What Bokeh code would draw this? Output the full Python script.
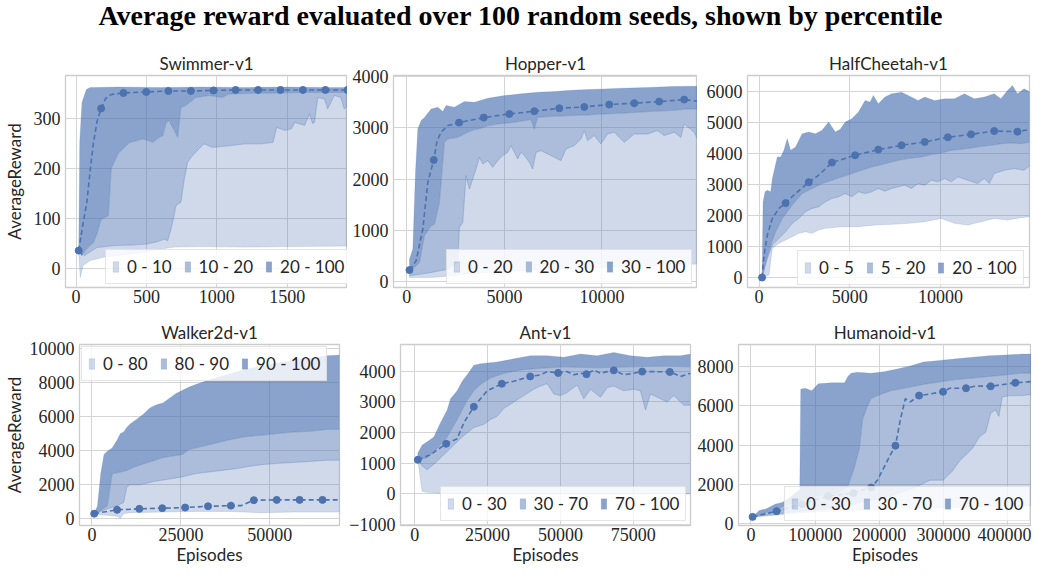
from bokeh.plotting import figure
from bokeh.models import (Range1d, FixedTicker, BasicTickFormatter, CustomJSTickFormatter,
                          Legend, LegendItem, Div)
from bokeh.layouts import column, row
from bokeh.embed import file_html
from bokeh.resources import INLINE

# ---------------- data ----------------
# Swimmer-v1
sw_p0_x = [19, 30, 50, 100, 200, 300, 400, 500, 600, 700, 900, 1200, 1500, 1929]
sw_p0_y = [30, -19, 5, 15, 22, 25, 28, 32, 38, 42, 43, 42, 43, 44]
sw_p10_x = [19, 60, 148, 265, 382, 499, 569, 628, 651, 675, 700, 710, 745, 770, 792, 827, 874, 909, 968, 1085,
            1202, 1319, 1400, 1425, 1483, 1530, 1554, 1624, 1659, 1680, 1694, 1718, 1765, 1788, 1835, 1882, 1905, 1929]
sw_p10_y = [35, 25, 41, 45, 46, 48, 52, 58, 55, 78, 110, 125, 132, 180, 212, 225, 239, 249, 242, 245,
            249, 249, 252, 282, 276, 279, 292, 286, 309, 290, 292, 342, 339, 319, 346, 342, 319, 325]
sw_p20_x = [19, 40, 80, 124, 150, 178, 230, 250, 300, 382, 430, 476, 546, 590, 616, 640, 663, 680, 698, 722,
            745, 780, 851, 944, 1038, 1085, 1200, 1400, 1600, 1800, 1929]
sw_p20_y = [35, 25, 40, 51, 70, 98, 105, 200, 230, 252, 255, 259, 252, 262, 265, 292, 296, 285, 276, 262,
            322, 326, 342, 346, 342, 349, 350, 351, 352, 352, 352]
sw_p100_x = [19, 26, 42, 73, 100, 300, 600, 900, 1200, 1500, 1800, 1929]
sw_p100_y = [35, 252, 332, 358, 362, 363, 362, 363, 362, 363, 362, 362]
sw_line_x = [19, 50, 77, 100, 124, 150, 178, 210, 250, 337, 499, 656, 816, 977, 1134, 1294, 1453, 1612, 1772, 1929]
sw_line_y = [35, 90, 132, 195, 252, 295, 320, 340, 348, 351, 353, 355, 355, 356, 357, 357, 357, 357, 357, 357]
sw_mk_x = [19, 178, 337, 499, 656, 816, 977, 1134, 1294, 1453, 1612, 1772, 1929]
sw_mk_y = [35, 320, 351, 353, 355, 355, 356, 357, 357, 357, 357, 357, 357]
sw_labels = ["0 - 10", "10 - 20", "20 - 100"]

# Hopper-v1
hp_p0_x = [136, 1245, 2098, 3000, 5000, 8000, 11000, 14895]
hp_p0_y = [85, 85, 110, 150, 200, 250, 300, 345]
hp_p20_x = [136, 1245, 2098, 2610, 2695, 2866, 3037, 3207, 3378, 3548, 3719, 3890, 4146, 4402, 4658, 4914,
            5170, 5340, 5511, 5681, 5852, 6023, 6279, 6449, 6620, 6875, 7216, 7558, 7899, 8155, 8582, 8923,
            9093, 9264, 9605, 9946, 10287, 10628, 11140, 11652, 12335, 12846, 13188, 13700, 14041, 14211,
            14723, 14895]
hp_p20_y = [117, 182, 247, 377, 1060, 1158, 2068, 1808, 2003, 2198, 2426, 2296, 2361, 2231, 2361, 2459,
            2524, 2654, 2524, 2394, 2524, 2459, 2328, 2198, 2524, 2556, 2491, 2426, 2361, 2589, 2654, 2784,
            2946, 2751, 2849, 2686, 2881, 2914, 2719, 2881, 2881, 2946, 2849, 2914, 2816, 3076,
            2914, 2784]
hp_p30_x = [136, 648, 904, 1245, 1416, 1672, 1927, 2098, 2610, 3122, 3463, 3804, 4146, 4658, 5511, 6364,
            6534, 6705, 7558, 8411, 9264, 10117, 10970, 11823, 12676, 13529, 14382, 14895]
hp_p30_y = [182, 377, 898, 1093, 1125, 1548, 2719, 2784, 2816, 2914, 2966, 2992, 3044, 3076, 3109, 3161,
            2979, 3207, 3226, 3239, 3252, 3272, 3284, 3304, 3324, 3337, 3369, 3369]
hp_p100_x = [136, 307, 444, 563, 733, 904, 1245, 1586, 1842, 2013, 2439, 2951, 3463, 4146, 4999, 5852,
             6705, 7558, 8411, 9264, 10117, 10970, 11823, 12676, 13529, 14382, 14895]
hp_p100_y = [442, 637, 2133, 2979, 3141, 3201, 3369, 3402, 3317, 3434, 3402, 3512, 3499, 3577, 3629, 3662,
             3694, 3707, 3733, 3746, 3759, 3772, 3779, 3792, 3805, 3811, 3811]
hp_line_x = [136, 478, 819, 1075, 1382, 1552, 1757, 2098, 2678, 3941, 5254, 6534, 7813, 9093, 10372, 11652,
             12931, 14211, 14895]
hp_line_y = [228, 410, 1028, 1938, 2374, 2751, 2914, 3044, 3102, 3200, 3271, 3324, 3382, 3408, 3454, 3480,
             3512, 3551, 3520]
hp_mk_x = [136, 1382, 2678, 3941, 5254, 6534, 7813, 9093, 10372, 11652, 12931, 14211]
hp_mk_y = [228, 2374, 3102, 3200, 3271, 3324, 3382, 3408, 3454, 3480, 3512, 3551]
hp_labels = ["0 - 20", "20 - 30", "30 - 100"]

# HalfCheetah-v1
hc_p0_x = [164, 548, 730, 1095, 1460, 1825, 2190, 2555, 2920, 3285, 3650, 4563, 5475, 6388, 7300, 8213,
           9125, 10038, 10767, 11498, 12228, 12958, 13688, 14418, 14965]
hc_p0_y = [0, 86, 942, 1103, 1210, 1317, 1424, 1478, 1424, 1531, 1585, 1639, 1639, 1692, 1714, 1746,
           1799, 1906, 1746, 1692, 1799, 1906, 1853, 1928, 1960]
hc_p5_x = [164, 456, 730, 1095, 1460, 1825, 2190, 2555, 2920, 3285, 3650, 4015, 4380, 4745, 5110, 5475,
           5840, 6205, 6570, 6935, 7300, 7665, 8030, 8395, 8760, 9125, 9490, 9855, 10220, 10585, 10950,
           11498, 12045, 12410, 12684, 12958, 13505, 14053, 14600, 14965]
hc_p5_y = [0, 621, 1050, 1264, 1478, 1746, 1906, 2121, 2228, 2281, 2442, 2549, 2603, 2710, 2603, 2763,
           2710, 2763, 2870, 2785, 2870, 2924, 2977, 2870, 3031, 2977, 3138, 3084, 3192, 3084, 3245,
           3138, 3031, 3192, 3031, 3352, 3459, 3513, 3459, 3620]
hc_p20_x = [164, 365, 639, 913, 1278, 1825, 2373, 2920, 3468, 4015, 4563, 5110, 5658, 6205, 6753, 7300,
            7848, 8395, 8943, 9490, 10038, 10585, 11133, 11680, 12228, 12775, 13323, 13870, 14418, 14965]
hc_p20_y = [0, 514, 1050, 1478, 1906, 2335, 2710, 2870, 3031, 3138, 3245, 3352, 3459, 3566, 3641, 3727,
            3802, 3856, 3888, 3963, 4016, 4102, 4134, 4177, 4230, 4263, 4316, 4338, 4316, 4370]
hc_p100_x = [164, 219, 329, 456, 639, 730, 1004, 1186, 1369, 1551, 1734, 2008, 2373, 2738, 3103, 3468,
             3833, 4198, 4471, 4745, 5110, 5475, 5840, 6114, 6296, 6570, 6935, 7300, 7848, 8213, 8760,
             9125, 9672, 10220, 10767, 11315, 11862, 12410, 12958, 13323, 13688, 13961, 14235, 14600, 14965]
hc_p100_y = [0, 2442, 2763, 2817, 2763, 3192, 3888, 3888, 4102, 4477, 4102, 4209, 4637, 4691, 4637, 4745,
             5012, 4691, 4777, 5012, 5120, 5334, 5708, 5655, 5869, 5601, 5816, 5923, 5976, 5869, 5708,
             5816, 5708, 5762, 5762, 5923, 5762, 5816, 5923, 5762, 6030, 6190, 5923, 6083, 5976]
hc_line_x = [164, 274, 456, 730, 1095, 1460, 2008, 2738, 3285, 4015, 5293, 6570, 7848, 9125, 10403, 11680,
             12958, 14235, 14965]
hc_line_y = [0, 728, 1371, 1906, 2228, 2399, 2710, 3074, 3299, 3706, 3941, 4123, 4263, 4370, 4520, 4616,
             4723, 4702, 4777]
hc_mk_x = [164, 1460, 2738, 4015, 5293, 6570, 7848, 9125, 10403, 11680, 12958, 14235]
hc_mk_y = [0, 2399, 3074, 3706, 3941, 4123, 4263, 4370, 4520, 4616, 4723, 4702]
hc_labels = ["0 - 5", "5 - 20", "20 - 100"]

# Walker2d-v1
wk_p0_x = [643, 4319, 7076, 7995, 8914, 10752, 19942, 29132, 38323, 42918, 47512, 56702, 65892, 69570]
wk_p0_y = [226, 189, 132, 0, 283, 340, 377, 415, 415, 377, 340, 377, 377, 377]
wk_p80_x = [643, 4319, 7076, 8914, 9833, 10752, 13509, 15347, 17185, 19942, 22699, 25456, 29132, 32808,
            36484, 40160, 43836, 47512, 52107, 56702, 61297, 65892, 69570]
wk_p80_y = [283, 566, 755, 943, 1887, 1981, 1981, 2076, 2170, 2264, 2359, 2453, 2642, 2736,
            2831, 2925, 3057, 3170, 3246, 3302, 3359, 3434, 3434]
wk_p90_x = [643, 2481, 4319, 5698, 6157, 7995, 9833, 11671, 14428, 17185, 19942, 22699, 25456, 27294,
            30970, 34646, 38323, 42918, 47512, 52107, 56702, 61297, 65892, 69570]
wk_p90_y = [283, 472, 755, 2642, 2642, 2736, 2831, 3019, 3208, 3397, 3585, 3680, 3774, 4057,
            4246, 4434, 4623, 4812, 4906, 5000, 5095, 5133, 5246, 5246]
wk_p100_x = [643, 1562, 2481, 3400, 4319, 5698, 7076, 7995, 8914, 9833, 10752, 12590, 14428, 16266, 18104,
             19942, 21780, 23618, 25456, 27294, 29132, 30970, 33727, 38323, 42918, 47512, 52107, 56702,
             61297, 65892, 69570]
wk_p100_y = [283, 755, 2642, 3774, 3963, 4151, 4623, 5000, 5095, 5378, 5567, 5850, 6133, 6510, 6699,
             6793, 7076, 7359, 7548, 7737, 7888, 8020, 8208, 8491, 8774, 8963, 9152, 9340,
             9435, 9586, 9624]
wk_line_x = [643, 7076, 13326, 19759, 26192, 32625, 39058, 41998, 45491, 51924, 58357, 64790, 69570]
wk_line_y = [283, 509, 566, 604, 642, 717, 755, 755, 1076, 1094, 1094, 1094, 1094]
wk_mk_x = [643, 7076, 13326, 19759, 26192, 32625, 39058, 45491, 51924, 58357, 64790]
wk_mk_y = [283, 509, 566, 604, 642, 717, 755, 1076, 1094, 1094, 1094]
wk_labels = ["0 - 80", "80 - 90", "90 - 100"]

# Ant-v1
an_p0_x = [1031, 1947, 2519, 4237, 7672, 11107, 20000, 40000, 60000, 80000, 94700]
an_p0_y = [1115, 448, 83, 52, 31, 10, 0, 0, 0, 0, 0]
an_p30_x = [1031, 2519, 4237, 6527, 9962, 13397, 16832, 20267, 23702, 25992, 28282, 30572, 34007, 37442,
            40877, 43167, 45457, 47747, 50037, 52326, 55761, 58051, 60341, 63776, 66066, 68356, 71791,
            75226, 77516, 79233, 80951, 84386, 86676, 88966, 91255, 92400, 94700]
an_p30_y = [1115, 917, 792, 969, 1281, 1594, 1906, 2167, 2271, 2427, 2531, 2792, 3000, 3208,
            3417, 3521, 3594, 3260, 3208, 3313, 3552, 3104, 3417, 3156, 3469, 3521, 3365,
            3417, 3365, 2740, 3260, 3104, 3000, 3208, 3000, 2896, 2896]
an_p70_x = [1031, 4237, 7672, 11107, 14542, 17977, 20267, 22557, 25992, 30572, 36297, 42022, 51182, 62631,
            74081, 85531, 94700]
an_p70_y = [1115, 1177, 1490, 1854, 2427, 3052, 3365, 3573, 3781, 3937, 4042, 4094, 4146, 4115,
            4146, 4167, 4146]
an_p100_x = [1031, 2519, 4237, 6527, 8817, 11107, 12252, 14542, 16260, 17977, 20267, 22557, 28282, 34007,
             39732, 45457, 51182, 56906, 62631, 68356, 74081, 79806, 85531, 91255, 94700]
an_p100_y = [1333, 1594, 1698, 1854, 2323, 2740, 3104, 3365, 3677, 3885, 4198, 4250, 4302, 4406,
             4510, 4510, 4458, 4563, 4510, 4615, 4510, 4458, 4510, 4510, 4563]
an_line_x = [1031, 5382, 10763, 14542, 16832, 20267, 22557, 24847, 27137, 29885, 34007, 39617, 43167, 45457,
             49235, 52326, 54616, 56906, 58968, 61486, 63776, 66066, 68357, 71791, 75226, 78089, 82095,
             87592, 91255, 94690]
an_line_y = [1115, 1281, 1635, 1802, 2323, 2844, 3104, 3365, 3469, 3594, 3677, 3833, 3885, 3990,
             3948, 3990, 3885, 3937, 3906, 4042, 3937, 3990, 4031, 3885, 3937, 3990, 3990,
             3979, 3833, 3937]
an_mk_x = [1031, 10763, 20267, 29885, 39617, 49235, 58968, 68357, 78089, 87592]
an_mk_y = [1115, 1635, 2844, 3594, 3833, 3948, 3906, 4031, 3990, 3979]
an_labels = ["0 - 30", "30 - 70", "70 - 100"]

# Humanoid-v1
hu_p0_x = [2557, 38363, 80000, 150000, 250000, 350000, 443000]
hu_p0_y = [327, 408, 550, 650, 750, 850, 900]
hu_p30_x = [2557, 63938, 115088, 160000, 217388, 258308, 278768, 299229, 314573, 324803, 335033, 345263,
            355493, 365723, 373396, 381068, 386183, 391298, 401528, 421988, 443000]
hu_p30_y = [327, 572, 735, 1000, 1388, 1878, 2205, 2205, 2695, 3185, 3511, 3838,
            4409, 4654, 5634, 5797, 5471, 6451, 6532, 6532, 6614]
hu_p70_x = [2557, 38363, 63938, 89513, 115088, 135548, 150893, 161123, 168796, 173911, 179026, 186698,
            196928, 217388, 242963, 268538, 294113, 319688, 345263, 370838, 396413, 421988, 443000]
hu_p70_y = [327, 700, 1061, 1306, 1470, 1551, 1878, 2858, 3838, 5307, 5797, 6369,
            6532, 6777, 6940, 7104, 7234, 7349, 7430, 7512, 7594, 7675, 7675]
hu_p100_x = [2557, 12788, 23018, 38363, 48593, 60000, 69053, 76000, 77500, 84398, 94628, 104858, 125318,
             145778, 150893, 156008, 166238, 186698, 207158, 227618, 248078, 268538, 294113, 319688,
             345263, 370838, 396413, 421988, 443000]
hu_p100_y = [327, 653, 735, 980, 1061, 1300, 1551, 1700, 6859, 6908, 6777, 7136, 7185,
             7185, 7512, 7675, 7724, 7675, 7757, 7888, 8051, 8247, 8329, 8410,
             8492, 8574, 8606, 8655, 8655]
hu_line_x = [2557, 39897, 79282, 120200, 159590, 187209, 196928, 207158, 217388, 225060, 232733, 240406,
             248078, 261888, 278768, 299229, 309458, 335033, 350378, 373397, 411760, 443000]
hu_line_y = [327, 621, 980, 1390, 1550, 1829, 2205, 2858, 3511, 3968, 5307, 6369,
             6206, 6532, 6614, 6728, 6908, 6908, 7022, 7006, 7185, 7267]
hu_mk_x = [2557, 39897, 79282, 120200, 159590, 187209, 225060, 261888, 299229, 335033, 373397, 411760]
hu_mk_y = [327, 621, 980, 1390, 1550, 1829, 3968, 6532, 6728, 6908, 7006, 7185]
hu_labels = ["0 - 30", "30 - 70", "70 - 100"]

TITLE = "Average reward evaluated over 100 random seeds, shown by percentile"

# ---------------- styling ----------------
BLUE = "#4c72b0"
ALPHAS = [0.27, 0.47, 0.65]
GRID = "#d5d5d5"
TXT = "#262626"
SANS = "Lato"
SERIF = "Liberation Serif"


def make_panel(title, width, height, bl, br, bt, bb, xr, yr, xticks, yticks,
               bounds, labels, line, marks, legend_loc, ylabel=None, xlabel=None, minus=False,
               ylabel_standoff=6):
    p = figure(width=width, height=height, output_backend="svg", toolbar_location=None,
               x_range=Range1d(*xr), y_range=Range1d(*yr),
               min_border_left=bl, min_border_right=br, min_border_top=bt, min_border_bottom=bb,
               title=title)
    p.title.align = "center"
    p.title.text_font = SANS
    p.title.text_font_size = "17px"
    p.title.text_font_style = "normal"
    p.title.text_color = TXT
    p.title.standoff = 4
    p.outline_line_color = "#cccccc"
    p.outline_line_width = 1.3
    p.background_fill_color = "white"

    p.xaxis.ticker = FixedTicker(ticks=xticks)
    p.yaxis.ticker = FixedTicker(ticks=yticks)
    p.xaxis.formatter = BasicTickFormatter(use_scientific=False)
    if minus:
        p.yaxis.formatter = CustomJSTickFormatter(
            code="return tick < 0 ? '\u2212' + Math.abs(tick) : String(tick);")
    else:
        p.yaxis.formatter = BasicTickFormatter(use_scientific=False)
    p.axis.major_label_text_font = SERIF
    p.axis.major_label_text_font_size = "18px"
    p.axis.major_label_text_font_style = "normal"
    p.axis.major_label_text_color = TXT
    p.axis.major_tick_line_color = None
    p.axis.minor_tick_line_color = None
    p.axis.major_tick_out = 0
    p.axis.major_tick_in = 0
    p.axis.minor_tick_out = 0
    p.axis.minor_tick_in = 0
    p.axis.axis_line_color = None
    p.axis.axis_label_text_font = SANS
    p.axis.axis_label_text_font_size = "17px"
    p.axis.axis_label_text_font_style = "normal"
    p.axis.axis_label_text_color = TXT
    p.yaxis.major_label_standoff = 5
    p.yaxis.axis_label_standoff = ylabel_standoff
    p.xaxis.major_label_standoff = 2
    p.xaxis.axis_label_standoff = 0
    if ylabel:
        p.yaxis.axis_label = ylabel
    if xlabel:
        p.xaxis.axis_label = xlabel

    p.xgrid.ticker = FixedTicker(ticks=xticks)
    p.ygrid.ticker = FixedTicker(ticks=yticks)
    p.grid.grid_line_color = GRID
    p.grid.grid_line_width = 1

    rends = []
    for i in range(3):
        lo_x, lo_y = bounds[i]
        hi_x, hi_y = bounds[i + 1]
        xs = list(lo_x) + list(reversed(hi_x))
        ys = list(lo_y) + list(reversed(hi_y))
        r = p.patch(xs, ys, fill_color=BLUE, fill_alpha=ALPHAS[i],
                    line_color=BLUE, line_alpha=0.22, line_width=0.8)
        rends.append(r)

    p.line(line[0], line[1], line_color=BLUE, line_width=1.6, line_dash="5 3")
    p.scatter(marks[0], marks[1], size=7, fill_color=BLUE, line_color=BLUE)

    items = [LegendItem(label=lab, renderers=[r]) for lab, r in zip(labels, rends)]
    leg = Legend(items=items, orientation="horizontal", location=legend_loc,
                 glyph_width=7, glyph_height=13, label_standoff=8, spacing=12,
                 padding=6, margin=2,
                 label_text_font=SANS, label_text_font_size="17px", label_text_color=TXT,
                 background_fill_color="white", background_fill_alpha=0.8,
                 border_line_color="#cccccc", border_line_width=1)
    p.add_layout(leg)
    return p


TOP_H = 276
BOT_H = 259

p1 = make_panel("Swimmer-v1", 347, TOP_H, 60, 0, 41, 23, (-75, 1929), (-39, 386),
                [0, 500, 1000, 1500], [0, 100, 200, 300],
                [(sw_p0_x, sw_p0_y), (sw_p10_x, sw_p10_y), (sw_p20_x, sw_p20_y), (sw_p100_x, sw_p100_y)],
                sw_labels, (sw_line_x, sw_line_y), (sw_mk_x, sw_mk_y), (40, 3), ylabel="AverageReward",
                ylabel_standoff=6)
p2 = make_panel("Hopper-v1", 350, TOP_H, 46, 0, 41, 23, (-682, 14895), (-111, 4020),
                [0, 5000, 10000], [0, 1000, 2000, 3000, 4000],
                [(hp_p0_x, hp_p0_y), (hp_p20_x, hp_p20_y), (hp_p30_x, hp_p30_y), (hp_p100_x, hp_p100_y)],
                hp_labels, (hp_line_x, hp_line_y), (hp_mk_x, hp_mk_y), (53, 3))
p3 = make_panel("HalfCheetah-v1", 334, TOP_H, 50, 2, 41, 23, (-639, 14900), (-321, 6512),
                [0, 5000, 10000], [0, 1000, 2000, 3000, 4000, 5000, 6000],
                [(hc_p0_x, hc_p0_y), (hc_p5_x, hc_p5_y), (hc_p20_x, hc_p20_y), (hc_p100_x, hc_p100_y)],
                hc_labels, (hc_line_x, hc_line_y), (hc_mk_x, hc_mk_y), (50, 2))
p4 = make_panel("Walker2d-v1", 342, BOT_H, 74, 3, 34, 44, (-3493, 69570), (-415, 10246),
                [0, 25000, 50000], [0, 2000, 4000, 6000, 8000, 10000],
                [(wk_p0_x, wk_p0_y), (wk_p80_x, wk_p80_y), (wk_p90_x, wk_p90_y), (wk_p100_x, wk_p100_y)],
                wk_labels, (wk_line_x, wk_line_y), (wk_mk_x, wk_mk_y), "top_left",
                ylabel="AverageReward", xlabel="Episodes", ylabel_standoff=2)
p5 = make_panel("Ant-v1", 350, BOT_H, 58, 2, 34, 44, (-4924, 94700), (-1031, 4875),
                [0, 25000, 50000, 75000], [-1000, 0, 1000, 2000, 3000, 4000],
                [(an_p0_x, an_p0_y), (an_p30_x, an_p30_y), (an_p70_x, an_p70_y), (an_p100_x, an_p100_y)],
                an_labels, (an_line_x, an_line_y), (an_mk_x, an_mk_y), (40, 4),
                xlabel="Episodes", minus=True)
p6 = make_panel("Humanoid-v1", 339, BOT_H, 46, 0, 34, 44, (-19437, 437000), (-114, 9145),
                [0, 100000, 200000, 300000, 400000], [0, 2000, 4000, 6000, 8000],
                [(hu_p0_x, hu_p0_y), (hu_p30_x, hu_p30_y), (hu_p70_x, hu_p70_y), (hu_p100_x, hu_p100_y)],
                hu_labels, (hu_line_x, hu_line_y), (hu_mk_x, hu_mk_y), (46, 4),
                xlabel="Episodes")

title_div = Div(text=TITLE, width=1031, height=24,
                styles={"text-align": "center", "font-family": "Liberation Serif",
                        "font-weight": "bold", "font-size": "28px", "line-height": "22px",
                        "color": "black", "width": "1031px"})

layout = column(title_div, row(p1, p2, p3), row(p4, p5, p6))

open("out.html", "w").write(file_html(layout, INLINE))
